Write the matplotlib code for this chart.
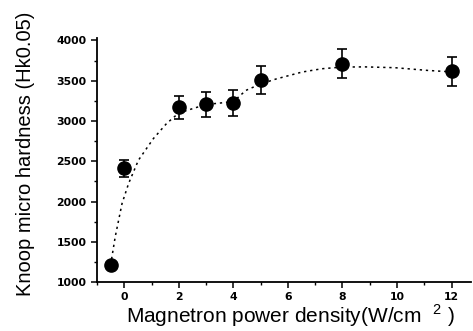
import matplotlib.pyplot as plt
import matplotlib
from matplotlib.ticker import MultipleLocator

matplotlib.rcParams['font.family'] = ['Liberation Sans', 'DejaVu Sans']
matplotlib.rcParams['mathtext.fontset'] = 'custom'
matplotlib.rcParams['mathtext.rm'] = 'Liberation Sans'

# measured points
power = [-0.5, 0, 2, 3, 4, 5, 8, 12]
hardness = [1210, 2410, 3170, 3205, 3222, 3505, 3710, 3615]
err = [0, 110, 145, 160, 160, 175, 180, 180]

# dotted trend curve
fit_x = [-0.5, -0.33, -0.08, 0.16, 0.52, 1.07, 1.55, 2.0, 3.0, 4.0, 4.46, 5.0,
         5.55, 6.52, 7.25, 8.0, 8.83, 9.92, 11.13, 12.0]
fit_y = [1210, 1563, 1976, 2224, 2513, 2782, 2968, 3100, 3205, 3240, 3380, 3460,
         3520, 3608, 3649, 3670, 3672, 3662, 3628, 3610]

fig = plt.figure(figsize=(4.73, 3.31), dpi=100)
ax = fig.add_axes([0.205, 0.148, 0.79, 0.737])

ax.plot(fit_x, fit_y, color='black', lw=1.1, linestyle=(0, (1.5, 2.5)))
ax.errorbar(power, hardness, yerr=err, fmt='o', color='black', ms=9.5,
            elinewidth=1.2, capsize=3.8, capthick=1.2)

ax.set_xlim(-1.0, 12.7)
ax.set_ylim(1000, 4030)
ax.xaxis.set_major_locator(MultipleLocator(2))
ax.xaxis.set_minor_locator(MultipleLocator(1))
ax.yaxis.set_major_locator(MultipleLocator(500))
ax.yaxis.set_minor_locator(MultipleLocator(250))
ax.tick_params(which='major', direction='out', length=4.5, width=1.1, pad=3)
ax.tick_params(which='minor', direction='out', length=2.5, width=1)
for lab in ax.get_xticklabels() + ax.get_yticklabels():
    lab.set_family('DejaVu Sans')
    lab.set_fontweight('bold')
    lab.set_fontsize(7.8)

for s in ['top', 'right']:
    ax.spines[s].set_visible(False)
for s in ['left', 'bottom']:
    ax.spines[s].set_linewidth(1.3)

fig.text(0.613, 0.024, 'Magnetron power density(W/cm  $^{2}$ )', fontsize=15,
         ha='center', va='baseline')
fig.text(0.053, 0.535, 'Knoop micro hardness (Hk0.05)', fontsize=14.5,
         rotation=90, ha='center', va='center')

fig.savefig('out.png', dpi=100)
